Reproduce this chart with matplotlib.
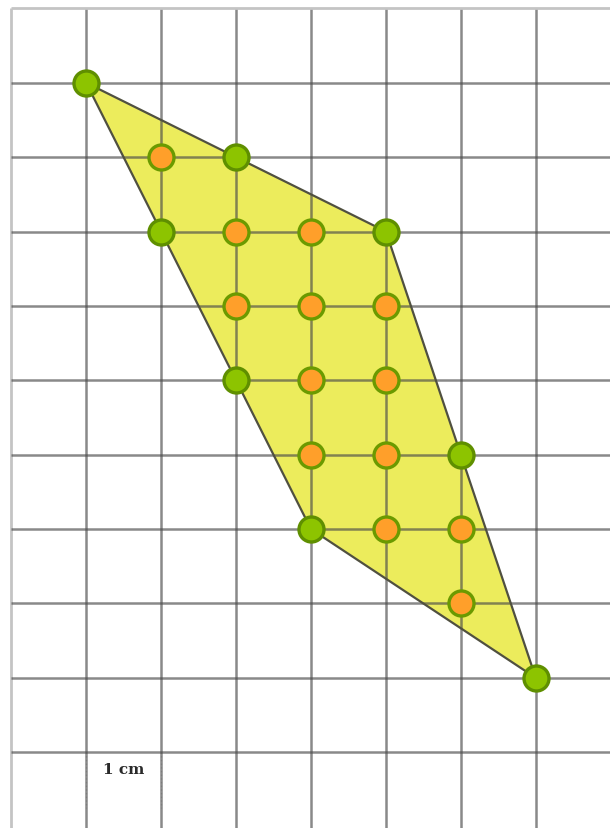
import matplotlib
matplotlib.use("Agg")
import matplotlib.pyplot as plt
from matplotlib.patches import Polygon

# grid columns / rows (row counted downward)
grid_cols = list(range(0, 8))
grid_rows = list(range(0, 11))

# polygon vertices (col, row)
poly_x = [1, 5, 7, 4]
poly_y = [1, 3, 9, 7]

# green points (on boundary)
green_x = [1, 3, 2, 5, 3, 6, 4, 7]
green_y = [1, 2, 3, 3, 5, 6, 7, 9]

# orange points (interior)
orange_x = [2, 3, 4, 3, 4, 5, 4, 5, 4, 5, 5, 6, 6]
orange_y = [2, 3, 3, 4, 4, 4, 5, 5, 6, 6, 7, 7, 8]

scale_label = "1 cm"

fig = plt.figure(figsize=(6.10, 8.29), dpi=100)
ax = fig.add_axes([0, 0, 1, 1])
XMIN, XMAX = -0.149, 7.990
YMIN, YMAX = -0.126, 11.018
ax.set_xlim(XMIN, XMAX)
ax.set_ylim(YMAX, YMIN)
ax.axis("off")

poly = Polygon(list(zip(poly_x, poly_y)), closed=True, facecolor="#ecec5c",
               edgecolor="none", zorder=1)
ax.add_patch(poly)

for c in grid_cols:
    if c == 0:
        ax.plot([c, c], [0, YMAX], color="#c4c4c4", lw=2.0, zorder=2,
                solid_capstyle="butt")
    else:
        ax.plot([c, c], [0, YMAX], color="#4a4a4a", lw=1.8, alpha=0.65,
                zorder=2, solid_capstyle="butt")
for r in grid_rows:
    if r == 0:
        ax.plot([0, XMAX], [r, r], color="#c4c4c4", lw=2.0, zorder=2,
                solid_capstyle="butt")
    else:
        ax.plot([0, XMAX], [r, r], color="#4a4a4a", lw=1.8, alpha=0.65,
                zorder=2, solid_capstyle="butt")

edge = Polygon(list(zip(poly_x, poly_y)), closed=True, facecolor="none",
               edgecolor="#505040", lw=1.6, zorder=3)
ax.add_patch(edge)

ax.plot(green_x, green_y, "o", ms=18, mfc="#8dc400", mec="#5f8f00", mew=2.4,
        ls="none", zorder=5)
ax.plot(orange_x, orange_y, "o", ms=18, mfc="#ff9f2a", mec="#6b9a00", mew=2.4,
        ls="none", zorder=5)

# scale label
ax.plot([1, 1], [10, 10.75], color="#d8d8d8", lw=1, ls=":", zorder=1)
ax.plot([2, 2], [10, 10.75], color="#d8d8d8", lw=1, ls=":", zorder=1)
ax.text(1.5, 10.22, scale_label, ha="center", va="center", fontsize=11,
        family="DejaVu Serif", color="#2a2a2a", fontweight="bold", zorder=6)

fig.savefig("out.png", dpi=100)
